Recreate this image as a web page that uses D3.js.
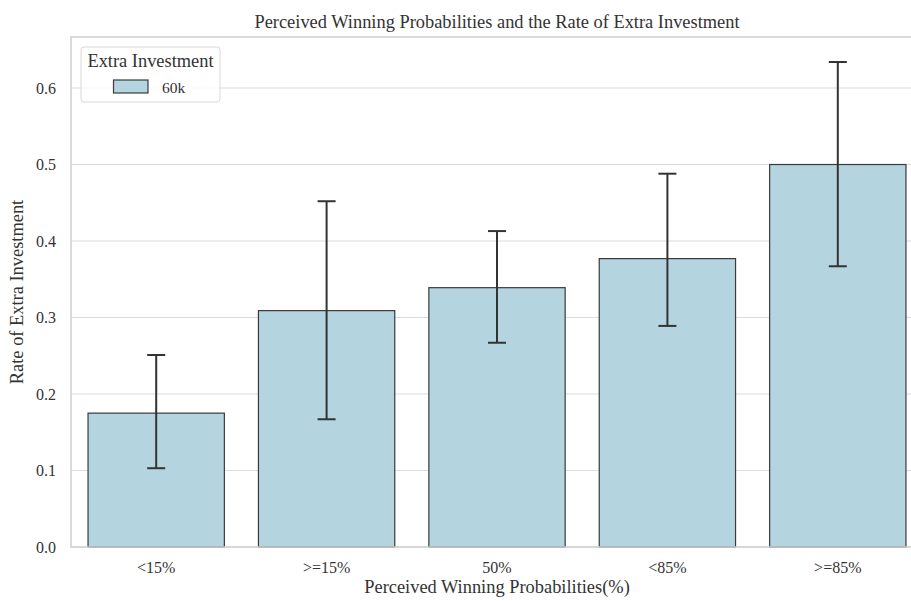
<!DOCTYPE html>
<html>
<head>
<meta charset="utf-8">
<script src="https://cdn.jsdelivr.net/npm/d3@7"></script>
<style>
  html, body { margin: 0; padding: 0; background: #fff; }
  svg { display: block; font-family: "Liberation Serif", "Times New Roman", serif; }
</style>
</head>
<body>
<svg id="chart" width="911" height="601"></svg>
<script>
// Perceived winning probability groups and the share choosing extra investment
const categories = ["<15%", ">=15%", "50%", "<85%", ">=85%"];
const rates      = [0.175, 0.309, 0.339, 0.377, 0.500];
const ciLow      = [0.103, 0.167, 0.267, 0.289, 0.367];
const ciHigh     = [0.251, 0.452, 0.413, 0.488, 0.634];
const yTicks     = [0.0, 0.1, 0.2, 0.3, 0.4, 0.5, 0.6];
const seriesName = "60k";
const legendTitle = "Extra Investment";

const margin = { left: 71, right: 923, top: 37, bottom: 547 };
const svg = d3.select("#chart");

const x = d3.scaleBand().domain(categories).range([margin.left, margin.right]).paddingInner(0).paddingOuter(0);
const y = d3.scaleLinear().domain([0, 0.6667]).range([margin.bottom, margin.top]);

const barColor = "#b4d4df";
const edgeColor = "#3a3a3a";
const gridColor = "#dcdcdc";
const spineColor = "#cfcfcf";
const textColor = "#333";
const serif = "Liberation Serif, Times New Roman, serif";

// horizontal grid
svg.append("g")
  .selectAll("line").data(yTicks).join("line")
  .attr("x1", margin.left).attr("x2", margin.right)
  .attr("y1", d => y(d)).attr("y2", d => y(d))
  .attr("stroke", gridColor).attr("stroke-width", 1.2);

// bars
const barW = x.bandwidth() * 0.8;
svg.append("g")
  .selectAll("rect").data(categories).join("rect")
  .attr("x", d => x(d) + (x.bandwidth() - barW) / 2)
  .attr("y", (d, i) => y(rates[i]))
  .attr("width", barW)
  .attr("height", (d, i) => y(0) - y(rates[i]))
  .attr("fill", barColor)
  .attr("stroke", edgeColor).attr("stroke-width", 1.2);

// error bars with caps
const eb = svg.append("g").attr("stroke", "#333").attr("stroke-width", 2).attr("fill", "none");
categories.forEach((c, i) => {
  const cx = x(c) + x.bandwidth() / 2;
  eb.append("line").attr("x1", cx).attr("x2", cx).attr("y1", y(ciLow[i])).attr("y2", y(ciHigh[i]));
  eb.append("line").attr("x1", cx - 9).attr("x2", cx + 9).attr("y1", y(ciLow[i])).attr("y2", y(ciLow[i]));
  eb.append("line").attr("x1", cx - 9).attr("x2", cx + 9).attr("y1", y(ciHigh[i])).attr("y2", y(ciHigh[i]));
});

// frame
svg.append("rect")
  .attr("x", margin.left).attr("y", margin.top)
  .attr("width", margin.right - margin.left).attr("height", margin.bottom - margin.top)
  .attr("fill", "none").attr("stroke", spineColor).attr("stroke-width", 1.5);

// y axis ticks
const yAxis = svg.append("g")
  .attr("transform", `translate(${margin.left},0)`)
  .call(d3.axisLeft(y).tickValues(yTicks).tickFormat(d3.format(".1f")).tickSize(0).tickPadding(15));
yAxis.select(".domain").remove();
yAxis.selectAll("text").attr("font-size", 16).attr("fill", textColor).attr("font-family", serif);

// x axis ticks
const xAxis = svg.append("g")
  .attr("transform", `translate(0,${margin.bottom})`)
  .call(d3.axisBottom(x).tickSize(0).tickPadding(15));
xAxis.select(".domain").remove();
xAxis.selectAll("text").attr("font-size", 16).attr("fill", textColor).attr("font-family", serif);

// title and axis labels
svg.append("text")
  .attr("x", (margin.left + margin.right) / 2).attr("y", 28)
  .attr("text-anchor", "middle").attr("font-size", 18.4).attr("fill", textColor)
  .text("Perceived Winning Probabilities and the Rate of Extra Investment");

svg.append("text")
  .attr("x", (margin.left + margin.right) / 2).attr("y", 593)
  .attr("text-anchor", "middle").attr("font-size", 18.4).attr("fill", textColor)
  .text("Perceived Winning Probabilities(%)");

svg.append("text")
  .attr("transform", `translate(23,${(margin.top + margin.bottom) / 2}) rotate(-90)`)
  .attr("text-anchor", "middle").attr("font-size", 18.4).attr("fill", textColor)
  .text("Rate of Extra Investment");

// legend
const lg = svg.append("g");
lg.append("rect")
  .attr("x", 81).attr("y", 47).attr("width", 139).attr("height", 55).attr("rx", 3)
  .attr("fill", "#fff").attr("fill-opacity", 0.8)
  .attr("stroke", "#d8d8d8").attr("stroke-width", 1);
lg.append("text")
  .attr("x", 150.5).attr("y", 67).attr("text-anchor", "middle")
  .attr("font-size", 18.4).attr("fill", textColor).text(legendTitle);
lg.append("rect")
  .attr("x", 113.5).attr("y", 80).attr("width", 34.5).attr("height", 13)
  .attr("fill", barColor).attr("stroke", edgeColor).attr("stroke-width", 1.2);
lg.append("text")
  .attr("x", 162).attr("y", 92.5).attr("font-size", 15.5).attr("fill", textColor).text(seriesName);
</script>
</body>
</html>
